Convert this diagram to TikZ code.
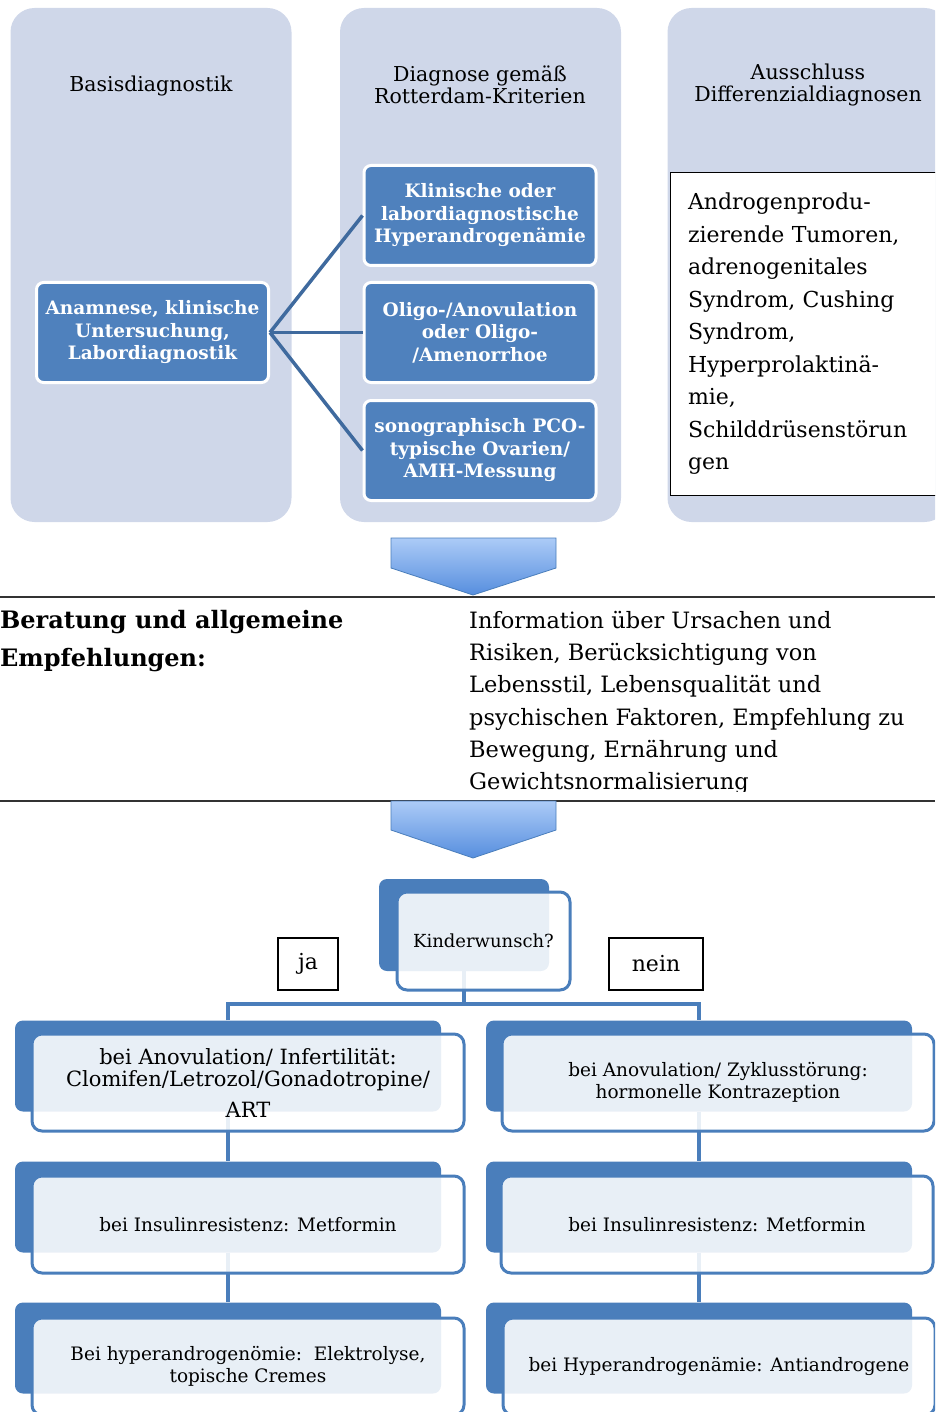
\documentclass[tikz,border=0pt]{standalone}
\usepackage{fontspec}
\setmainfont{DejaVu Serif}
\usepackage{tikz}
\usetikzlibrary{positioning,calc}
\definecolor{cpanel}{RGB}{207,215,233}
\definecolor{cbox}{RGB}{79,129,189}
\definecolor{cline}{RGB}{63,106,158}
\definecolor{cdark}{RGB}{74,126,187}
\definecolor{carrtop}{RGB}{172,203,247}
\definecolor{carrbot}{RGB}{86,142,222}

\begin{document}
\begin{tikzpicture}[x=1pt, y=-1pt,
    panel/.style={fill=cpanel, rounded corners=24pt, minimum width=281pt, minimum height=514pt, inner sep=0pt},
    heading/.style={align=center, font=\fontsize{20.5}{22}\selectfont},
    crit/.style={draw=white, line width=3pt, fill=cbox, rounded corners=7pt, minimum width=232pt,
                 minimum height=100pt, inner sep=2pt, align=center, text=white,
                 font=\bfseries\fontsize{18.5}{22.5}\selectfont},
    link/.style={draw=cline, line width=3.5pt},
    diffbox/.style={draw, line width=1pt, fill=white, text width=260pt, inner xsep=18pt,
                    minimum height=322pt, align=left, font=\fontsize{22}{32.5}\selectfont},
    chevron/.style={draw=cdark, line width=0.8pt, top color=carrtop, bottom color=carrbot},
    sep/.style={draw=black!80, line width=1.5pt},
    back/.style={fill=cdark, rounded corners=8pt, minimum width=426pt, minimum height=91pt, inner sep=0pt},
    front/.style={draw=cdark, line width=3pt, fill=white, fill opacity=0.88, text opacity=1,
                  rounded corners=10pt, minimum width=432pt, minimum height=97pt, align=center,
                  font=\fontsize{18.5}{22}\selectfont},
    choice/.style={draw, line width=1.2pt, minimum height=52pt, font=\fontsize{22}{24}\selectfont},
    tree/.style={draw=cdark, line width=3.5pt}
  ]
  \clip (0,0) rectangle (935,1412);

  \node[panel] (col1) at (151,265) {};
  \node[panel] (col2) at (480.5,265) {};
  \node[panel] (col3) at (808,265) {};
  \node[heading] (h1) at (151,86) {Basisdiagnostik};
  \node[heading] (h2) at (480,85) {Diagnose gemäß\\Rotterdam-Kriterien};
  \node[heading] (h3) at (808,85) {Ausschluss\\Differenzialdiagnosen};

  \node[crit] (anam) at (152.5,332.5) {Anamnese, klinische\\Untersuchung,\\Labordiagnostik};
  \node[crit] (klin) at (480,215.5) {Klinische oder\\labordiagnostische\\Hyperandrogenämie};
  \node[crit] (oligo) at (480,332.5) {Oligo-/Anovulation\\oder Oligo-\\/Amenorrhoe};
  \node[crit] (sono) at (480,450.5) {sonographisch PCO-\\typische Ovarien/\\AMH-Messung};

  \draw[link] (anam.east) -- (klin.west);
  \draw[link] (anam.east) -- (oligo.west);
  \draw[link] (anam.east) -- (sono.west);

  \node[diffbox] (diff) at (818,334) {Androgenprodu-\\zierende Tumoren,\\adrenogenitales\\Syndrom, Cushing\\Syndrom,\\Hyperprolaktinä-\\mie,\\Schilddrüsenstörun\\gen};

  \draw[chevron] (391,538) -- (556,538) -- (556,568) -- (473,595) -- (391,568) -- cycle;
  \draw[sep] (0,597) -- (935,597);

  \node[anchor=north west, inner sep=0pt, align=left, font=\bfseries\fontsize{24}{38}\selectfont] (ber) at (0,610) {Beratung und allgemeine\\Empfehlungen:};
  \begin{scope}
    \clip (0,597) rectangle (935,791);
    \node[anchor=north west, inner sep=0pt, align=left, font=\fontsize{22.5}{32.2}\selectfont] (info) at (469,611) {Information über Ursachen und\\Risiken, Berücksichtigung von\\Lebensstil, Lebensqualität und\\psychischen Faktoren, Empfehlung zu\\Bewegung, Ernährung und\\Gewichtsnormalisierung};
  \end{scope}

  \draw[sep] (0,801) -- (935,801);
  \draw[chevron] (391,801) -- (556,801) -- (556,830) -- (473,858) -- (391,830) -- cycle;

  \node[back, minimum width=170pt, minimum height=92pt] (kwback) at (464,925) {};
  \node[choice, minimum width=60pt] (ja) at (308,964) {ja};
  \node[choice, minimum width=94pt] (nein) at (656,964) {nein};

  \node[back] (l1back) at (228,1066) {};
  \node[back] (r1back) at (699,1066) {};
  \node[back] (l2back) at (228,1207) {};
  \node[back] (r2back) at (699,1207) {};
  \node[back] (l3back) at (228,1348) {};
  \node[back] (r3back) at (699,1348) {};

  \coordinate (fork) at (464,1004);
  \draw[tree] (kwback.south) -- (fork);
  \draw[tree] (l1back.north) |- (fork) -| (r1back.north);
  \draw[tree] (l1back.south) -- (l2back.north);
  \draw[tree] (l2back.south) -- (l3back.north);
  \draw[tree] (r1back.south) -- (r2back.north);
  \draw[tree] (r2back.south) -- (r3back.north);

  \node[front, minimum width=173pt, minimum height=98pt, font=\fontsize{18}{22}\selectfont] (kw) at (483.5,941) {Kinderwunsch?};
  \node[front, font=\fontsize{21}{22.5}\selectfont] (l1) at (248,1082.5) {bei Anovulation/ Infertilität:\\Clomifen/Letrozol/Gonadotropine/\\[8pt]ART};
  \node[front] (r1) at (718,1082.5) {bei Anovulation/ Zyklusstörung:\\hormonelle Kontrazeption};
  \node[front] (l2) at (248,1224.5) {bei Insulinresistenz: Metformin};
  \node[front] (r2) at (717,1224.5) {bei Insulinresistenz: Metformin};
  \node[front] (l3) at (248,1366.5) {Bei hyperandrogenömie:\ \ Elektrolyse,\\topische Cremes};
  \node[front] (r3) at (719,1366.5) {bei Hyperandrogenämie: Antiandrogene};
\end{tikzpicture}
\end{document}
